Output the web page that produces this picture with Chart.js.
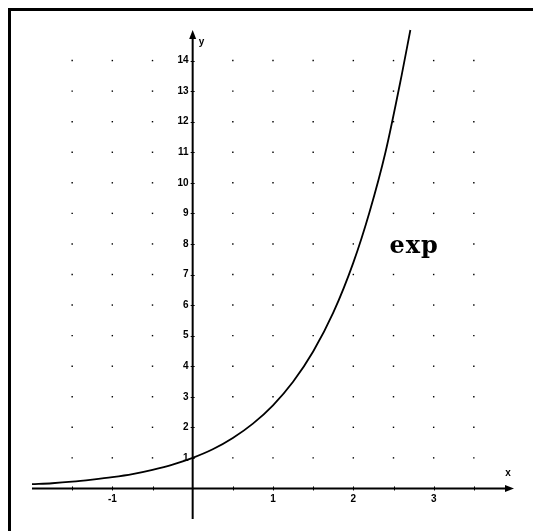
<!DOCTYPE html>
<html>
<head>
<meta charset="utf-8">
<script src="https://cdn.jsdelivr.net/npm/chart.js@4"></script>
<style>
  html, body { margin: 0; padding: 0; background: #fff; }
  canvas { display: block; }
</style>
</head>
<body>
<canvas id="chart" width="533" height="531"></canvas>
<script>
// points
const curveX = [-2, -1.75, -1.5, -1.25, -1, -0.75, -0.5, -0.25, 0, 0.25, 0.5, 0.75, 1, 1.25, 1.5, 1.75, 2, 2.2, 2.4, 2.6, 2.71];
const curveY = [0.14, 0.17, 0.22, 0.29, 0.37, 0.47, 0.61, 0.78, 1, 1.28, 1.65, 2.12, 2.72, 3.49, 4.48, 5.75, 7.39, 9.03, 11.0, 13.5, 15.0];

// dotted grid positions
const gridX = [-1.5, -1, -0.5, 0.5, 1, 1.5, 2, 2.5, 3, 3.5];
const gridY = [1, 2, 3, 4, 5, 6, 7, 8, 9, 10, 11, 12, 13, 14];

// tick labels
const xTickLabels = [-1, 1, 2, 3];
const yTickLabels = [1, 2, 3, 4, 5, 6, 7, 8, 9, 10, 11, 12, 13, 14];
const xTickMarks = [-1.5, -1, -0.5, 0.5, 1, 1.5, 2, 2.5, 3, 3.5];

const curveLabel = "exp";

var curvePts = [];
for (var i = 0; i < curveX.length; i++) {
	curvePts.push({x: curveX[i], y: curveY[i]});
}
var dotPts = [];
for (var a = 0; a < gridX.length; a++) {
	for (var b = 0; b < gridY.length; b++) {
		dotPts.push({x: gridX[a], y: gridY[b]});
	}
}

// axes, arrows, labels and the frame
var axesPlugin = {
	id: 'axes',
	beforeDatasetsDraw: function(chart) {
		var ctx = chart.ctx;
		var xs = chart.scales.x, ys = chart.scales.y;
		var x0 = xs.getPixelForValue(0), y0 = ys.getPixelForValue(0);
		var left = xs.getPixelForValue(xs.min), right = xs.getPixelForValue(xs.max);
		var top = ys.getPixelForValue(ys.max), bottom = ys.getPixelForValue(ys.min);
		ctx.save();
		// frame
		ctx.fillStyle = '#000';
		ctx.fillRect(8, 8, 3, chart.height - 8);
		ctx.fillRect(8, 8, chart.width - 8, 3);

		ctx.strokeStyle = '#000';
		ctx.lineWidth = 2;
		ctx.beginPath();
		ctx.moveTo(left, y0);
		ctx.lineTo(right - 6, y0);
		ctx.moveTo(x0, bottom);
		ctx.lineTo(x0, top + 6);
		ctx.stroke();
		// arrows
		ctx.beginPath();
		ctx.moveTo(right, y0);
		ctx.lineTo(right - 9, y0 - 3.5);
		ctx.lineTo(right - 9, y0 + 3.5);
		ctx.closePath();
		ctx.fill();
		ctx.beginPath();
		ctx.moveTo(x0, top);
		ctx.lineTo(x0 - 3.5, top + 9);
		ctx.lineTo(x0 + 3.5, top + 9);
		ctx.closePath();
		ctx.fill();

		// tick marks
		ctx.lineWidth = 1;
		ctx.beginPath();
		xTickMarks.forEach(function(v) {
			var px = Math.round(xs.getPixelForValue(v)) + 0.5;
			ctx.moveTo(px, y0 - 2);
			ctx.lineTo(px, y0 + 2);
		});
		yTickLabels.forEach(function(v) {
			var py = Math.round(ys.getPixelForValue(v)) + 0.5;
			ctx.moveTo(x0 - 2, py);
			ctx.lineTo(x0 + 2, py);
		});
		ctx.stroke();

		// tick labels
		ctx.font = 'bold 10px "Liberation Sans", Arial, sans-serif';
		ctx.textAlign = 'right';
		ctx.textBaseline = 'middle';
		yTickLabels.forEach(function(v) {
			ctx.fillText(String(v), x0 - 4, ys.getPixelForValue(v));
		});
		ctx.textAlign = 'center';
		ctx.textBaseline = 'top';
		xTickLabels.forEach(function(v) {
			ctx.fillText(String(v), xs.getPixelForValue(v), y0 + 6);
		});
		// axis names
		ctx.textAlign = 'left';
		ctx.textBaseline = 'middle';
		ctx.fillText('y', x0 + 6, top + 12);
		ctx.textAlign = 'center';
		ctx.fillText('x', right - 6, y0 - 15);

		// curve name
		ctx.font = 'bold 24px "DejaVu Serif", serif';
		ctx.letterSpacing = '1px';
		ctx.textAlign = 'left';
		ctx.textBaseline = 'alphabetic';
		ctx.fillText(curveLabel, xs.getPixelForValue(2.45), ys.getPixelForValue(7.7));
		ctx.restore();
	}
};

var ctx = document.getElementById('chart');
var chart = new Chart(ctx, {
	type: 'scatter',
	data: {
		datasets: [
			{
				label: 'grid',
				data: dotPts,
				pointStyle: 'rect',
				pointRadius: 1,
				borderWidth: 0,
				backgroundColor: '#000',
				showLine: false,
			},
			{
				label: curveLabel,
				data: curvePts,
				showLine: true,
				borderColor: '#000',
				borderWidth: 1.8,
				backgroundColor: 'transparent',
				pointRadius: 0,
				cubicInterpolationMode: 'monotone',
				clip: false,
			},
		]
	},
	options: {
		responsive: false,
		animation: false,
		devicePixelRatio: 1,
		layout: { padding: { left: 32, right: 19, top: 30, bottom: 12 } },
		plugins: {
			legend: { display: false },
			tooltip: { enabled: false },
		},
		scales: {
			x: { type: 'linear', min: -2, max: 4, display: false },
			y: { type: 'linear', min: -1, max: 15, display: false },
		}
	},
	plugins: [axesPlugin]
});
</script>
</body>
</html>
